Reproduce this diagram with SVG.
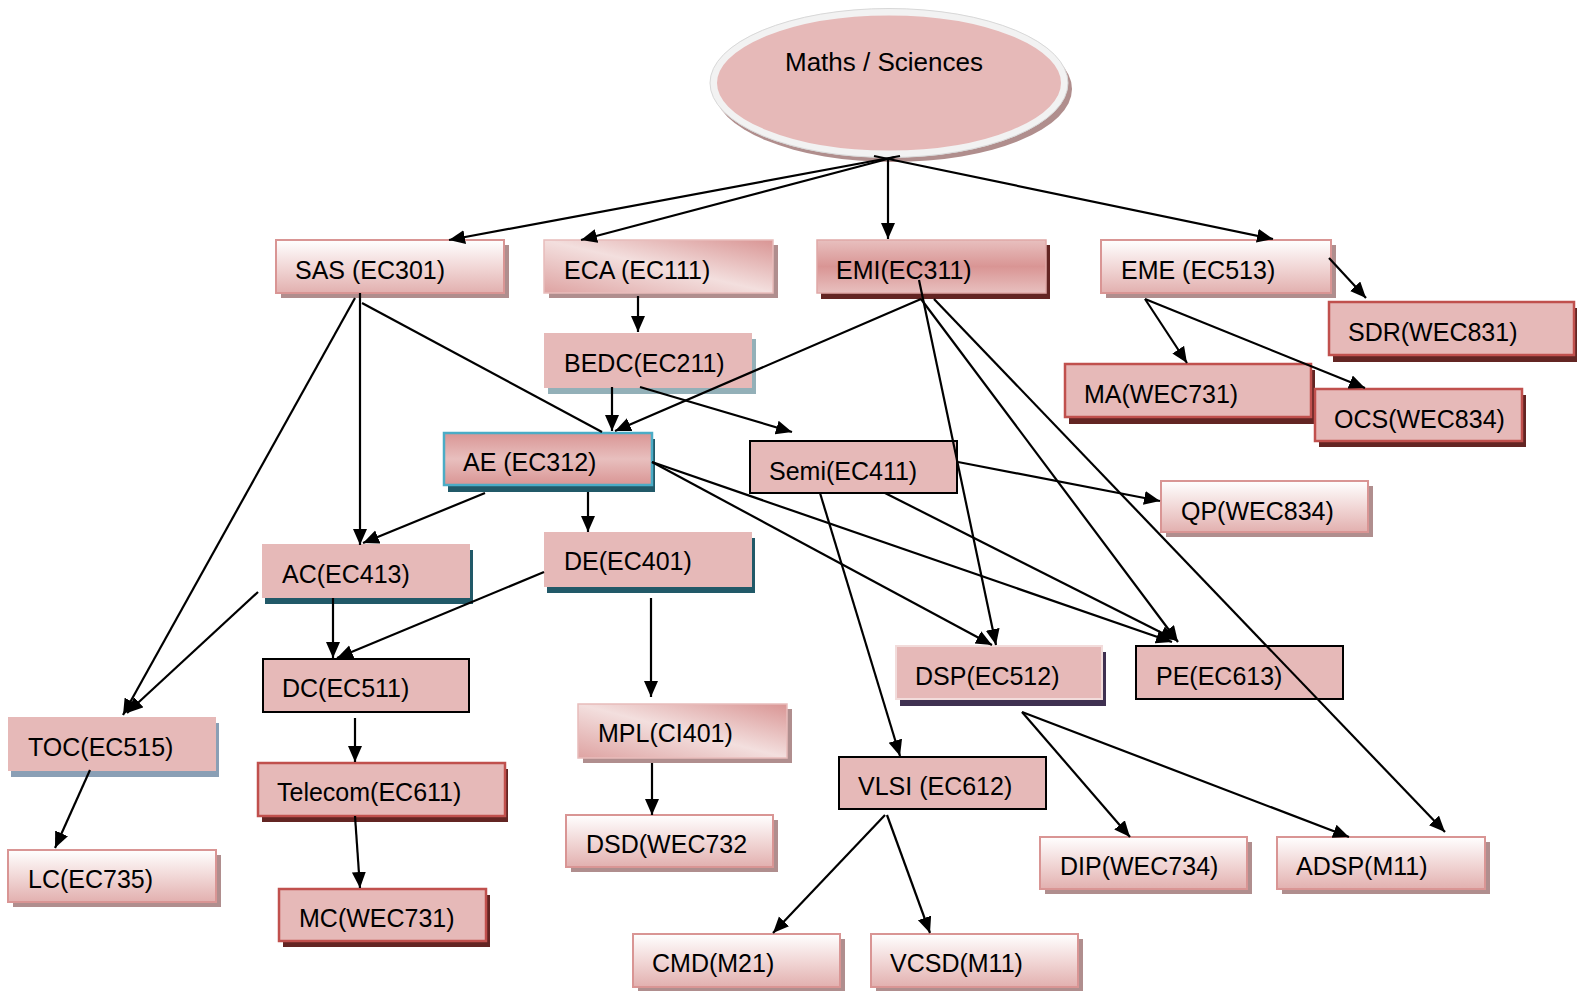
<svg xmlns="http://www.w3.org/2000/svg" width="1577" height="991" viewBox="0 0 1577 991">
<defs>
<linearGradient id="gWP" x1="0" y1="0" x2="0" y2="1"><stop offset="0" stop-color="#ffffff"/><stop offset="0.55" stop-color="#f0d4d3"/><stop offset="1" stop-color="#e2b0af"/></linearGradient>
<linearGradient id="gDiag" x1="0" y1="1" x2="1" y2="0"><stop offset="0" stop-color="#dea3a2"/><stop offset="0.5" stop-color="#f3dfde"/><stop offset="1" stop-color="#d99594"/></linearGradient>
<linearGradient id="gBandD" x1="0" y1="0" x2="0" y2="1"><stop offset="0" stop-color="#e8c0bf"/><stop offset="0.5" stop-color="#d99594"/><stop offset="1" stop-color="#e8c0bf"/></linearGradient>
<linearGradient id="gBandL" x1="0" y1="0" x2="0" y2="1"><stop offset="0" stop-color="#d99594"/><stop offset="0.5" stop-color="#e8bfbe"/><stop offset="1" stop-color="#d99594"/></linearGradient>
<marker id="arr" markerUnits="userSpaceOnUse" markerWidth="17" markerHeight="15" refX="16" refY="7" orient="auto"><path d="M0,0 L16,7 L0,14 z" fill="#000"/></marker>
</defs>
<style>
text{font-family:"Liberation Sans",Arial,sans-serif;font-size:25px;fill:#000}
.pk{fill:#e6b9b8}
.wp{fill:url(#gWP);stroke:#d99594;stroke-width:2}
.dg{fill:url(#gDiag);stroke:#e8bcbb;stroke-width:1.5}
.bk{fill:#e6b9b8;stroke:#000;stroke-width:2}
.rd{fill:#e6b9b8;stroke:#c0504d;stroke-width:2.5}
.sg{fill:#b08e8e}
.sr{fill:#632523}
.st{fill:#215968}
.sb{fill:#8a9fb5}
.sl{fill:#93b0b8}
.sp{fill:#3f3151}
#conn line{stroke:#000;stroke-width:2.2;fill:none}
#conn line.a{marker-end:url(#arr)}
</style>
<rect width="1577" height="991" fill="#fff"/>
<g id="maths">
<ellipse cx="893" cy="89" rx="179" ry="73" fill="#b08e8d"/>
<ellipse cx="889" cy="83" rx="175.5" ry="71" fill="#e6b9b8" stroke="#f2f2f2" stroke-width="7"/>
<ellipse cx="889" cy="83" rx="179" ry="74.5" fill="none" stroke="#d8d8d8" stroke-width="1"/>
<text x="884" y="71" text-anchor="middle" style="font-size:26px">Maths / Sciences</text>
</g>
<g id="sas"><rect class="sg" x="281" y="245" width="228" height="53"/><rect class="wp" x="276" y="240" width="228" height="53"/><text x="295" y="279">SAS (EC301)</text></g>
<g id="eca"><rect class="sg" x="549" y="245" width="229" height="53"/><rect class="dg" x="544" y="240" width="229" height="53"/><text x="564" y="279">ECA (EC111)</text></g>
<g id="emi"><rect class="sr" x="821" y="245" width="229" height="54"/><rect x="817" y="240" width="229" height="53" fill="url(#gBandD)" stroke="#e0a8a7" stroke-width="1.5"/><text x="836" y="279">EMI(EC311)</text></g>
<g id="eme"><rect class="sg" x="1106" y="245" width="230" height="53"/><rect class="wp" x="1101" y="240" width="230" height="53"/><text x="1121" y="279">EME (EC513)</text></g>
<g id="sdr"><rect class="sr" x="1333" y="308" width="245" height="54"/><rect class="rd" x="1329" y="302" width="245" height="53"/><text x="1348" y="341">SDR(WEC831)</text></g>
<g id="ma"><rect class="sr" x="1069" y="370" width="246" height="54"/><rect class="rd" x="1065" y="364" width="246" height="53"/><text x="1084" y="403">MA(WEC731)</text></g>
<g id="ocs"><rect class="sr" x="1319" y="395" width="207" height="52"/><rect class="rd" x="1315" y="389" width="207" height="52"/><text x="1334" y="428">OCS(WEC834)</text></g>
<g id="bedc"><rect class="sl" x="548" y="339" width="208" height="55"/><rect class="pk" x="544" y="333" width="208" height="55"/><text x="564" y="372">BEDC(EC211)</text></g>
<g id="ae"><rect class="st" x="448" y="439" width="207" height="53"/><rect x="444" y="433" width="208" height="52" fill="url(#gBandL)" stroke="#4bacc6" stroke-width="2.5"/><text x="463" y="471">AE (EC312)</text></g>
<g id="semi"><rect class="bk" x="750" y="441" width="207" height="52"/><text x="769" y="480">Semi(EC411)</text></g>
<g id="qp"><rect class="sg" x="1166" y="486" width="207" height="51"/><rect class="wp" x="1161" y="481" width="207" height="51"/><text x="1181" y="520">QP(WEC834)</text></g>
<g id="ac"><rect class="st" x="265" y="550" width="208" height="54"/><rect class="pk" x="262" y="544" width="208" height="54"/><text x="282" y="583">AC(EC413)</text></g>
<g id="de"><rect class="st" x="547" y="538" width="208" height="55"/><rect class="pk" x="544" y="532" width="208" height="55"/><text x="564" y="570">DE(EC401)</text></g>
<g id="dc"><rect class="bk" x="263" y="659" width="206" height="53"/><text x="282" y="697">DC(EC511)</text></g>
<g id="toc"><rect class="sb" x="11" y="723" width="208" height="54"/><rect class="pk" x="8" y="717" width="208" height="54"/><text x="28" y="756">TOC(EC515)</text></g>
<g id="telecom"><rect class="sr" x="262" y="769" width="246" height="53"/><rect class="rd" x="258" y="763" width="247" height="53"/><text x="277" y="801">Telecom(EC611)</text></g>
<g id="lc"><rect class="sg" x="13" y="855" width="208" height="52"/><rect class="wp" x="8" y="850" width="208" height="52"/><text x="28" y="888">LC(EC735)</text></g>
<g id="mc"><rect class="sr" x="283" y="895" width="207" height="52"/><rect class="rd" x="279" y="889" width="207" height="52"/><text x="299" y="927">MC(WEC731)</text></g>
<g id="mpl"><rect class="sg" x="583" y="709" width="209" height="54"/><rect class="dg" x="578" y="704" width="209" height="54"/><text x="598" y="742">MPL(CI401)</text></g>
<g id="dsd"><rect class="sg" x="571" y="820" width="207" height="52"/><rect class="wp" x="566" y="815" width="207" height="52"/><text x="586" y="853">DSD(WEC732</text></g>
<g id="vlsi"><rect class="bk" x="839" y="757" width="207" height="52"/><text x="858" y="795">VLSI (EC612)</text></g>
<g id="cmd"><rect class="sg" x="638" y="939" width="207" height="53"/><rect class="wp" x="633" y="934" width="207" height="53"/><text x="652" y="972">CMD(M21)</text></g>
<g id="vcsd"><rect class="sg" x="876" y="939" width="207" height="53"/><rect class="wp" x="871" y="934" width="207" height="53"/><text x="890" y="972">VCSD(M11)</text></g>
<g id="dsp"><rect class="sp" x="900" y="652" width="206" height="54"/><rect x="896" y="646" width="206" height="53" fill="#e6b9b8" stroke="#f2dcdb" stroke-width="2"/><text x="915" y="685">DSP(EC512)</text></g>
<g id="pe"><rect class="bk" x="1136" y="646" width="207" height="53"/><text x="1156" y="685">PE(EC613)</text></g>
<g id="dip"><rect class="sg" x="1045" y="842" width="207" height="52"/><rect class="wp" x="1040" y="837" width="207" height="52"/><text x="1060" y="875">DIP(WEC734)</text></g>
<g id="adsp"><rect class="sg" x="1282" y="842" width="208" height="52"/><rect class="wp" x="1277" y="837" width="208" height="52"/><text x="1296" y="875">ADSP(M11)</text></g>
<g id="conn">
<line class="a" x1="900" y1="156" x2="449" y2="240"/>
<line class="a" x1="895" y1="157" x2="581" y2="240"/>
<line class="a" x1="888" y1="158" x2="888" y2="239"/>
<line class="a" x1="874" y1="156" x2="1273" y2="239"/>
<line class="a" x1="638" y1="296" x2="638" y2="332"/>
<line class="a" x1="612" y1="387" x2="612" y2="431"/>
<line class="a" x1="640" y1="387" x2="792" y2="432"/>
<line class="a" x1="921" y1="299" x2="615" y2="431"/>
<line class="a" x1="919" y1="280" x2="996" y2="645"/>
<line class="a" x1="921" y1="299" x2="1178" y2="642"/>
<line class="a" x1="934" y1="299" x2="1445" y2="832"/>
<line class="a" x1="360" y1="293" x2="360" y2="545"/>
<line x1="362" y1="303" x2="602" y2="432"/>
<line class="a" x1="355" y1="298" x2="123" y2="715"/>
<line class="a" x1="485" y1="493" x2="363" y2="543"/>
<line class="a" x1="588" y1="492" x2="588" y2="532"/>
<line class="a" x1="652" y1="462" x2="1172" y2="642"/>
<line class="a" x1="652" y1="462" x2="992" y2="645"/>
<line class="a" x1="958" y1="462" x2="1160" y2="501"/>
<line class="a" x1="885" y1="493" x2="1176" y2="640"/>
<line class="a" x1="820" y1="493" x2="900" y2="756"/>
<line class="a" x1="333" y1="598" x2="333" y2="658"/>
<line class="a" x1="258" y1="592" x2="127" y2="713"/>
<line class="a" x1="544" y1="572" x2="337" y2="658"/>
<line class="a" x1="651" y1="598" x2="651" y2="697"/>
<line class="a" x1="355" y1="718" x2="355" y2="762"/>
<line class="a" x1="355" y1="816" x2="360" y2="888"/>
<line class="a" x1="90" y1="770" x2="55" y2="848"/>
<line class="a" x1="652" y1="763" x2="652" y2="815"/>
<line class="a" x1="885" y1="815" x2="773" y2="933"/>
<line class="a" x1="887" y1="815" x2="930" y2="933"/>
<line class="a" x1="1022" y1="712" x2="1130" y2="837"/>
<line class="a" x1="1022" y1="712" x2="1349" y2="837"/>
<line class="a" x1="1329" y1="258" x2="1366" y2="298"/>
<line class="a" x1="1145" y1="299" x2="1187" y2="363"/>
<line class="a" x1="1145" y1="299" x2="1365" y2="388"/>
</g>
</svg>
